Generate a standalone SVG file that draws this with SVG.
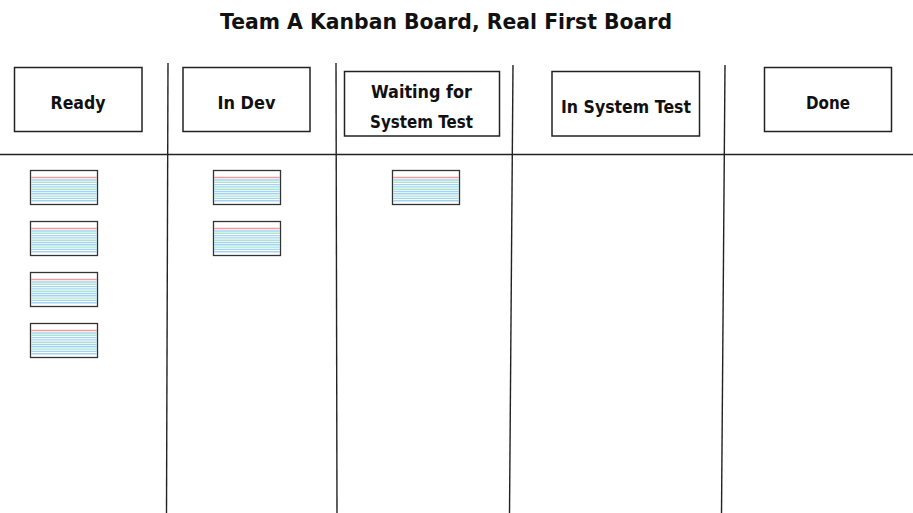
<svg xmlns="http://www.w3.org/2000/svg" xmlns:xlink="http://www.w3.org/1999/xlink" width="913" height="513" viewBox="0 0 913 513">
<style>
.bg{fill:#ffffff}
.hdr{fill:#ffffff;stroke:#222;stroke-width:1.5}
.rule{stroke:#222;stroke-width:1.4;fill:none}
.lbl{font-family:"DejaVu Sans","Noto Sans",sans-serif;font-weight:bold;font-size:17px;fill:#111;text-anchor:middle}
.title{font-family:"DejaVu Sans","Noto Sans",sans-serif;font-weight:bold;font-size:22px;fill:#111;text-anchor:middle}
.cardbox{fill:#ffffff;stroke:#333;stroke-width:1.3}
.red{stroke:#f49a9a;stroke-width:1.4}
.blue{stroke:#9fd4f2;stroke-width:1.4}
.green{stroke:#aee3cc;stroke-width:1.4}
</style>
<defs>
<symbol id="card" overflow="visible">
<rect class="cardbox" x="0" y="0" width="67" height="34"/>
<line class="red" x1="0.6" y1="7" x2="66.4" y2="7"/>
<line class="blue" x1="0.6" y1="9.5" x2="66.4" y2="9.5"/>
<line class="green" x1="0.6" y1="11.8" x2="66.4" y2="11.8"/>
<line class="blue" x1="0.6" y1="14.1" x2="66.4" y2="14.1"/>
<line class="blue" x1="0.6" y1="16.4" x2="66.4" y2="16.4"/>
<line class="green" x1="0.6" y1="18.7" x2="66.4" y2="18.7"/>
<line class="blue" x1="0.6" y1="21" x2="66.4" y2="21"/>
<line class="blue" x1="0.6" y1="23.3" x2="66.4" y2="23.3"/>
<line class="green" x1="0.6" y1="25.6" x2="66.4" y2="25.6"/>
<line class="blue" x1="0.6" y1="27.9" x2="66.4" y2="27.9"/>
<line class="blue" x1="0.6" y1="30.2" x2="66.4" y2="30.2"/>
</symbol>
</defs>
<rect class="bg" x="0" y="0" width="913" height="513"/>
<text class="title" x="446" y="29" textLength="452" lengthAdjust="spacingAndGlyphs">Team A Kanban Board, Real First Board</text>
<g id="connectors">
<line class="rule" x1="0" y1="154.5" x2="913" y2="154.5"/>
<line class="rule" x1="168" y1="63" x2="166.5" y2="513"/>
<line class="rule" x1="336" y1="63" x2="337" y2="513"/>
<line class="rule" x1="513" y1="65" x2="509.5" y2="513"/>
<line class="rule" x1="725" y1="65" x2="721.5" y2="513"/>
</g>
<g id="col-ready">
<rect class="hdr" x="14.5" y="67.5" width="127.5" height="64"/>
<text class="lbl" x="78" y="109" textLength="55" lengthAdjust="spacingAndGlyphs">Ready</text>
</g>
<g id="col-indev">
<rect class="hdr" x="183" y="67.5" width="127" height="64"/>
<text class="lbl" x="246.5" y="109" textLength="58" lengthAdjust="spacingAndGlyphs">In Dev</text>
</g>
<g id="col-waiting">
<rect class="hdr" x="344.5" y="71.5" width="155" height="64.5"/>
<text class="lbl" x="421.5" y="98" textLength="101" lengthAdjust="spacingAndGlyphs">Waiting for</text>
<text class="lbl" x="421.5" y="128" textLength="103" lengthAdjust="spacingAndGlyphs">System Test</text>
</g>
<g id="col-systest">
<rect class="hdr" x="552" y="71.5" width="147.5" height="64.5"/>
<text class="lbl" x="626" y="113" textLength="130" lengthAdjust="spacingAndGlyphs">In System Test</text>
</g>
<g id="col-done">
<rect class="hdr" x="764.5" y="67.5" width="127" height="64"/>
<text class="lbl" x="828" y="109" textLength="44" lengthAdjust="spacingAndGlyphs">Done</text>
</g>
<g id="card-ready-1"><use xlink:href="#card" href="#card" x="30.5" y="170.5"/></g>
<g id="card-ready-2"><use xlink:href="#card" href="#card" x="30.5" y="221.5"/></g>
<g id="card-ready-3"><use xlink:href="#card" href="#card" x="30.5" y="272.5"/></g>
<g id="card-ready-4"><use xlink:href="#card" href="#card" x="30.5" y="323.5"/></g>
<g id="card-indev-1"><use xlink:href="#card" href="#card" x="213.5" y="170.5"/></g>
<g id="card-indev-2"><use xlink:href="#card" href="#card" x="213.5" y="221.5"/></g>
<g id="card-waiting-1"><use xlink:href="#card" href="#card" x="392.5" y="170.5"/></g>
</svg>
